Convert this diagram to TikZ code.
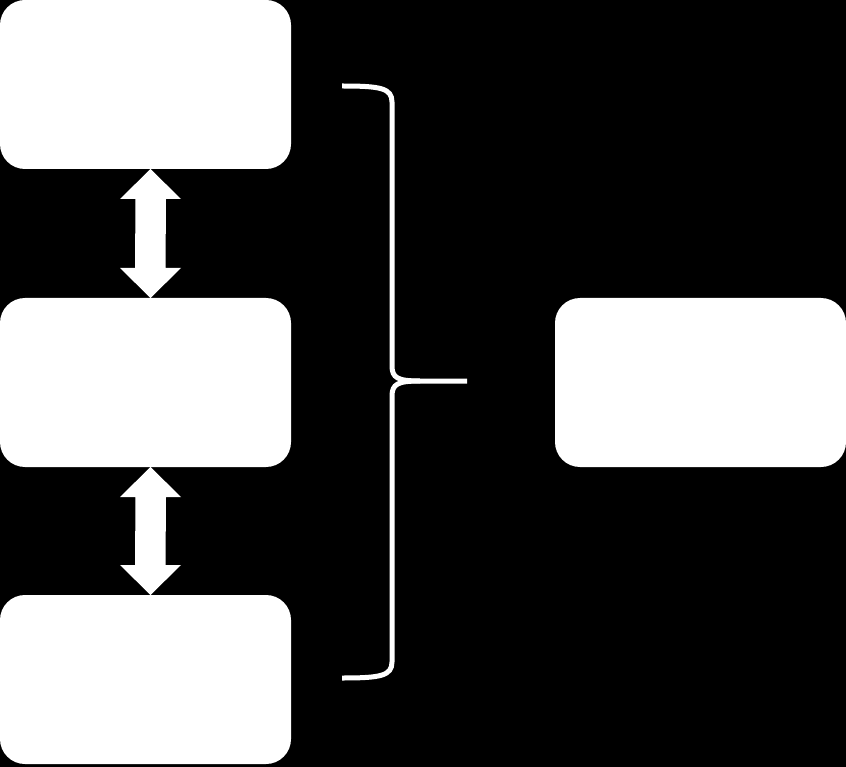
\documentclass[tikz,border=0pt]{standalone}
\usetikzlibrary{calc}
\begin{document}
\begin{tikzpicture}[x=1pt,y=-1pt,
  box/.style={fill=white,rounded corners=25pt,minimum width=291pt,minimum height=169pt,inner sep=0pt,outer sep=0pt},
  bracestyle/.style={draw=white,line width=5pt,line cap=butt}]
\fill[black] (0,0) rectangle (846,767);
\useasboundingbox (0,0) rectangle (846,767);
\node[box] (b1) at (145.5,84.5) {};
\node[box] (b2) at (145.5,382.5) {};
\node[box] (b3) at (145.5,679.5) {};
\node[box] (r) at (700.5,382.5) {};
% double block arrows
\foreach \a/\b in {b1/b2,b2/b3}{
  \coordinate (s) at ($(\a.south)+(5,0)$);
  \coordinate (e) at ($(\b.north)+(5,0)$);
  \fill[white] (s) -- ++(30.5,30) -- ++(-15,0) -- ($(e)+(15,-30)$) -- ++(15.5,0)
    -- (e) -- ++(-30.5,-30) -- ++(15,0) -- ($(s)+(-15,30)$) -- ++(-15.5,0) -- cycle;
}
% brace
\coordinate (bt) at (342,86);
\coordinate (bb) at (342,678);
\coordinate (bm) at (467,381);
\draw[bracestyle] (bt) .. controls (380,86) and (392,88) .. (392,102) -- (392,366)
   .. controls (392,378) and (398,381) .. (420,381) -- (bm);
\draw[bracestyle] (bb) .. controls (380,678) and (392,676) .. (392,662) -- (392,396)
   .. controls (392,384) and (398,381) .. (420,381);
\end{tikzpicture}
\end{document}
